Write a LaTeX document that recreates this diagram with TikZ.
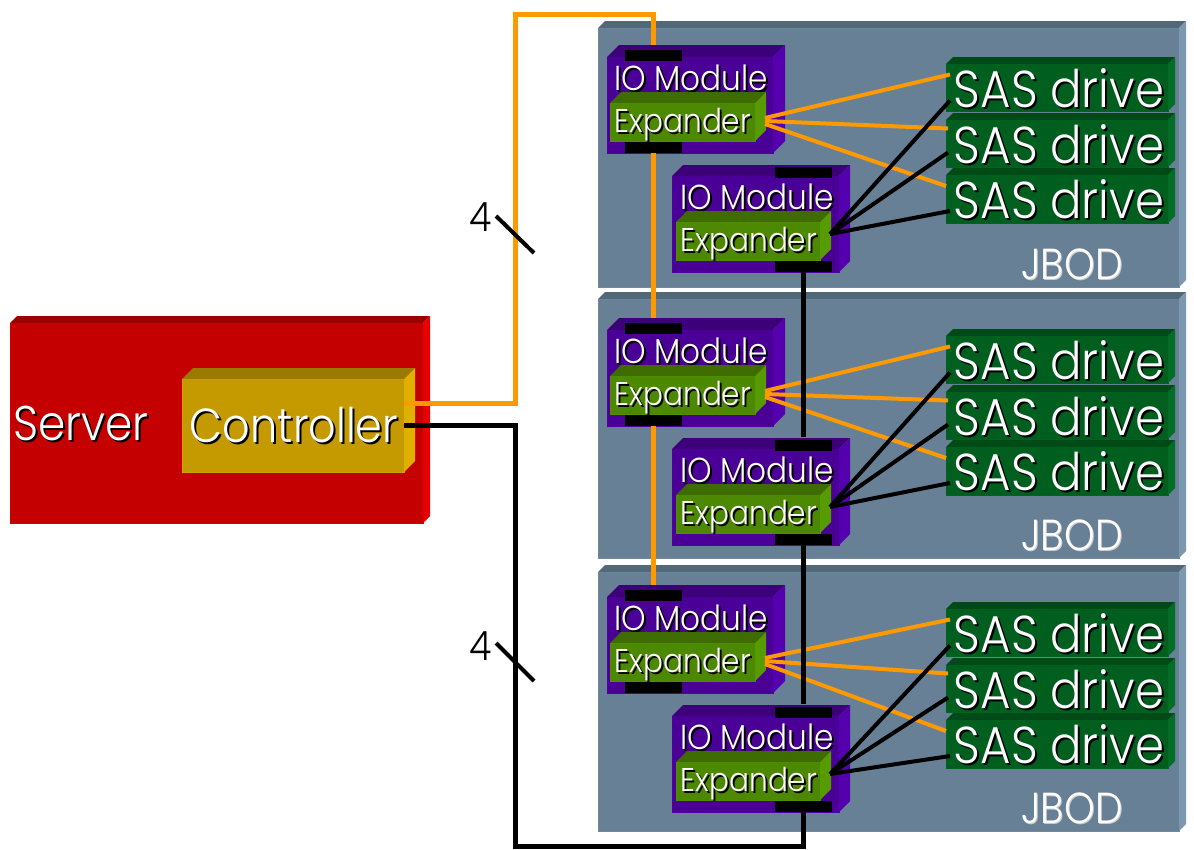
\documentclass[tikz,border=0pt]{standalone}
\usepackage{fontspec}
\setmainfont[FakeStretch=0.9]{Poppins Light}
\usepackage{xcolor}

\definecolor{serverfront}{HTML}{C40000}
\definecolor{servertop}{HTML}{9A0000}
\definecolor{serverside}{HTML}{E60000}
\definecolor{ctrlfront}{HTML}{C49A00}
\definecolor{ctrltop}{HTML}{9A7A00}
\definecolor{ctrlside}{HTML}{E0B000}
\definecolor{modfront}{HTML}{4A0096}
\definecolor{modtop}{HTML}{3C0078}
\definecolor{modside}{HTML}{5500AF}
\definecolor{expfront}{HTML}{4C8800}
\definecolor{exptop}{HTML}{3E6C00}
\definecolor{expside}{HTML}{569C00}
\definecolor{drivefront}{HTML}{005E1E}
\definecolor{drivetop}{HTML}{004A18}
\definecolor{driveside}{HTML}{006E24}
\definecolor{jbodfront}{HTML}{688096}
\definecolor{jbodtop}{HTML}{506878}
\definecolor{jbodside}{HTML}{7C98B0}
\definecolor{linkorange}{HTML}{FF9900}

\tikzset{
    face/.style={anchor=north west, inner sep=0pt, outer sep=0pt, line width=0.02cm},
    port/.style={fill=black, anchor=north west, inner sep=0pt, outer sep=0pt, minimum width=57*0.02cm, minimum height=11*0.02cm},
    orangelink/.style={linkorange, line width=5*0.02cm},
    blacklink/.style={black, line width=5*0.02cm},
    orangefan/.style={linkorange, line width=4*0.02cm},
    blackfan/.style={black, line width=4*0.02cm},
}

% name, x, y, width, height, depth, colour prefix
\newcommand{\solidbox}[7]{
    \node[face, fill=#7front, draw=#7front!60!#7side, minimum width=#4*0.02cm, minimum height=#5*0.02cm] (#1) at (#2,#3) {};
    \fill[#7top] (#1.north west) -- ++(#6,-#6) -- ([shift={(#6,-#6)}]#1.north east) -- (#1.north east) -- cycle;
    \fill[#7side] (#1.north east) -- ++(#6,-#6) -- ([shift={(#6,-#6)}]#1.south east) -- (#1.south east) -- cycle;
}
% name, x, y, font size, text
\newcommand{\shadowtext}[5]{
    \node[black, font=\fontsize{#4}{#4}\selectfont] (#1s) at (#2+2,#3+2) {#5};
    \node[white, font=\fontsize{#4}{#4}\selectfont] (#1) at (#2,#3) {#5};
}

\begin{document}
\begin{tikzpicture}[x=0.02cm, y=-0.02cm]
    \useasboundingbox (0,0) rectangle (1194,849);

    % Server and controller
    \solidbox{server}{10}{323}{413}{200}{7}{server}
    \solidbox{ctrl}{182}{379}{222}{93}{11}{ctrl}
    \shadowtext{servertxt}{81}{423}{27.7}{Server}
    \shadowtext{ctrltxt}{294}{425}{27.2}{Controller}

    % Enclosures
    \foreach \i/\dj in {1/0, 2/271, 3/544} {
        \begin{scope}[shift={(0,\dj)}]
            \solidbox{jbod\i}{598}{28}{581}{259}{7}{jbod}
            \node[white!80!black, font=\fontsize{24.7}{24.7}\selectfont] (jbodtxts\i) at (1073,265) {JBOD};
            \node[white, font=\fontsize{24.7}{24.7}\selectfont] (jbodtxt\i) at (1072,264) {JBOD};
        \end{scope}
    }

    % Modules
    \foreach \i/\dm in {1/0, 2/273, 3/540} {
        \begin{scope}[shift={(0,\dm)}]
            \solidbox{ioa\i}{607}{57}{166}{96}{12}{mod}
            \node[port] (ioa\i top) at (625,50) {};
            \node[port] (ioa\i bot) at (625,142) {};
            \shadowtext{ioatxt\i}{691}{78}{19.7}{IO Module}
            \solidbox{expa\i}{610}{103}{145}{38}{11}{exp}
            \shadowtext{expatxt\i}{683}{125}{18.7}{Expander}

            \solidbox{iob\i}{672}{176}{167}{96}{11}{mod}
            \node[port] (iob\i top) at (775,167) {};
            \node[port] (iob\i bot) at (775,261) {};
            \shadowtext{iobtxt\i}{757}{197}{19.7}{IO Module}
            \solidbox{expb\i}{676}{222}{144}{38}{11}{exp}
            \shadowtext{expbtxt\i}{749}{244}{18.7}{Expander}
        \end{scope}
    }

    % Drives
    \foreach \i/\dd in {1/0, 2/272, 3/545} {
        \begin{scope}[shift={(0,\dd)}]
            \solidbox{drva\i}{946}{64}{222}{47}{7}{drive}
            \solidbox{drvb\i}{946}{120}{222}{47}{7}{drive}
            \solidbox{drvc\i}{946}{175}{222}{48}{7}{drive}
        \end{scope}
    }

    % Fan-out to the drives
    \foreach \i in {1,2,3} {
        \draw[orangefan] ([shift={(10,-4)}]expa\i.east) -- ([shift={(4,-13)}]drva\i.west);
        \draw[orangefan] ([shift={(10,-1)}]expa\i.east) -- ([shift={(2,-15)}]drvb\i.west);
        \draw[orangefan] ([shift={(10,2)}]expa\i.east) -- ([shift={(0,-13)}]drvc\i.west);
        \draw[blackfan] ([shift={(10,-7)}]expb\i.east) -- ([shift={(4,13)}]drva\i.west);
        \draw[blackfan] ([shift={(10,-7)}]expb\i.east) -- ([shift={(2,9)}]drvb\i.west);
        \draw[blackfan] ([shift={(10,-7)}]expb\i.east) -- ([shift={(4,12)}]drvc\i.west);
    }

    % Drive labels on top of the lines
    \foreach \i/\dd in {1/0, 2/272, 3/545} {
        \begin{scope}[shift={(0,\dd)}]
            \shadowtext{drvatxt\i}{1059}{88}{29.5}{SAS drive}
            \shadowtext{drvbtxt\i}{1059}{144}{29.5}{SAS drive}
            \shadowtext{drvctxt\i}{1059}{199}{29.5}{SAS drive}
        \end{scope}
    }

    % Daisy chain
    \draw[orangelink] (ioa1bot.south) -- ([shift={(0,-5)}]ioa2top.north);
    \draw[orangelink] (ioa2bot.south) -- ([shift={(0,-5)}]ioa3top.north);
    \draw[blacklink] (iob1bot.south) -- ([shift={(0,-3)}]iob2top.north);
    \draw[blacklink] (iob2bot.south) -- ([shift={(0,-3)}]iob3top.north);

    % Links to the controller
    \coordinate (bendtop) at (515,14);
    \coordinate (bendbot) at (515,846);
    \draw[orangelink] ([shift={(0,-22)}]ctrl.east) -| (bendtop) -| ([shift={(0,-5)}]ioa1top.north);
    \draw[blacklink] (ctrl.east) -| (bendbot) -| (iob3bot.south);

    % Lane count
    \coordinate (ticka) at (496,216);
    \coordinate (tickb) at (534,253);
    \coordinate (tickc) at (496,643);
    \coordinate (tickd) at (534,681);
    \draw[blackfan] (ticka) -- (tickb);
    \draw[blackfan] (tickc) -- (tickd);
    \node[font=\fontsize{23}{23}\selectfont] (lanesa) at (481,217) {4};
    \node[font=\fontsize{23}{23}\selectfont] (lanesb) at (481,646) {4};
\end{tikzpicture}
\end{document}
